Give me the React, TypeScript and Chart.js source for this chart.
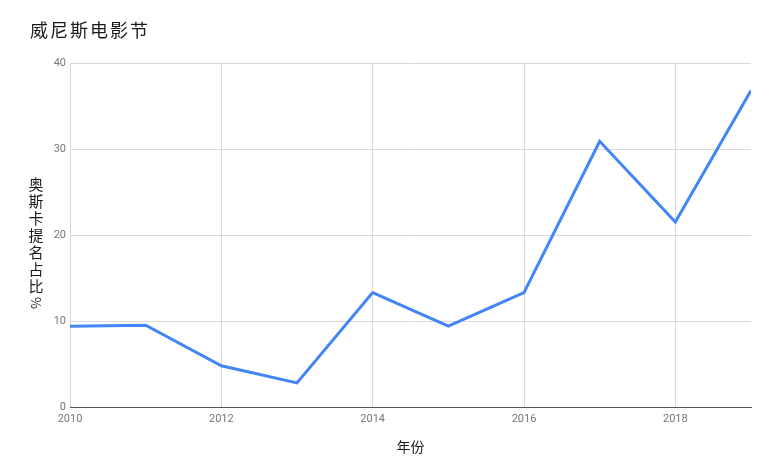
import React, { useEffect, useRef } from "react";
import { Chart, registerables } from "chart.js";

Chart.register(...registerables);

const years = [2010, 2011, 2012, 2013, 2014, 2015, 2016, 2017, 2018, 2019];
const shares = [9.4, 9.5, 4.8, 2.8, 13.3, 9.4, 13.3, 30.9, 21.5, 36.8];
const xTicks = [2010, 2012, 2014, 2016, 2018];
const yTicks = [0, 10, 20, 30, 40];
const chartTitle = "威尼斯电影节";
const xTitle = "年份";
const yTitle = "奥斯卡提名占比%";

const CJK = '"Noto Sans CJK SC", "Noto Sans", sans-serif';

const textPlugin = {
  id: "textPlugin",
  afterDraw(chart: any) {
    const ctx = chart.ctx as CanvasRenderingContext2D;
    ctx.save();
    ctx.fillStyle = "#1a1a1a";
    ctx.textAlign = "left";
    ctx.textBaseline = "middle";
    ctx.font = `18px ${CJK}`;
    (ctx as any).letterSpacing = "2px";
    ctx.fillText(chartTitle, 30, 30);
    (ctx as any).letterSpacing = "0px";

    ctx.font = `14px ${CJK}`;
    ctx.textAlign = "center";
    ctx.fillText(xTitle, (chart.chartArea.left + chart.chartArea.right) / 2, 447);

    ctx.font = `15px ${CJK}`;
    const chars = Array.from(yTitle);
    const step = 17;
    let y = 184;
    chars.forEach((c) => {
      if (c === "%") {
        ctx.save();
        ctx.translate(36, y);
        ctx.rotate(Math.PI / 2);
        ctx.font = `13px ${CJK}`;
        ctx.fillText(c, 0, 0);
        ctx.restore();
      } else {
        ctx.fillText(c, 36, y);
      }
      y += step;
    });
    ctx.restore();
  },
};

export default function App() {
  const ref = useRef<HTMLCanvasElement>(null);
  useEffect(() => {
    if (!ref.current) return;
    const chart = new Chart(ref.current, {
      type: "line",
      data: {
        datasets: [
          {
            data: years.map((x, i) => ({ x, y: shares[i] })),
            borderColor: "#4285F4",
            borderWidth: 3,
            pointRadius: 0,
            tension: 0,
            fill: false,
          },
        ],
      },
      options: {
        animation: false,
        responsive: false,
        maintainAspectRatio: false,
        layout: { padding: { left: 0, right: 15, top: 63, bottom: 0 } },
        plugins: { legend: { display: false }, tooltip: { enabled: false } },
        scales: {
          x: {
            type: "linear",
            min: 2010,
            max: 2019,
            afterBuildTicks: (scale: any) => {
              scale.ticks = xTicks.map((v) => ({ value: v }));
            },
            afterFit: (scale: any) => {
              scale.height = 65;
            },
            grid: { color: "#d9d9d9", drawTicks: false, lineWidth: 1 },
            border: { display: true, color: "#555", width: 1 },
            ticks: {
              autoSkip: false,
              maxRotation: 0,
              padding: 6,
              color: "#777",
              font: { family: "Roboto", size: 11 },
              callback: (v: any) => String(v),
            },
          },
          y: {
            type: "linear",
            min: 0,
            max: 40,
            afterBuildTicks: (scale: any) => {
              scale.ticks = yTicks.map((v) => ({ value: v }));
            },
            afterFit: (scale: any) => {
              scale.width = 70;
            },
            grid: { color: "#d9d9d9", drawTicks: false, lineWidth: 1 },
            border: { display: false },
            ticks: {
              padding: 4,
              color: "#777",
              font: { family: "Roboto", size: 11 },
            },
          },
        },
      },
      plugins: [textPlugin],
    });
    return () => chart.destroy();
  }, []);
  return (
    <div style={{ position: "absolute", left: 0, top: 0, width: 766, height: 472 }}>
      <canvas ref={ref} width={766} height={472} style={{ width: 766, height: 472 }} />
    </div>
  );
}
